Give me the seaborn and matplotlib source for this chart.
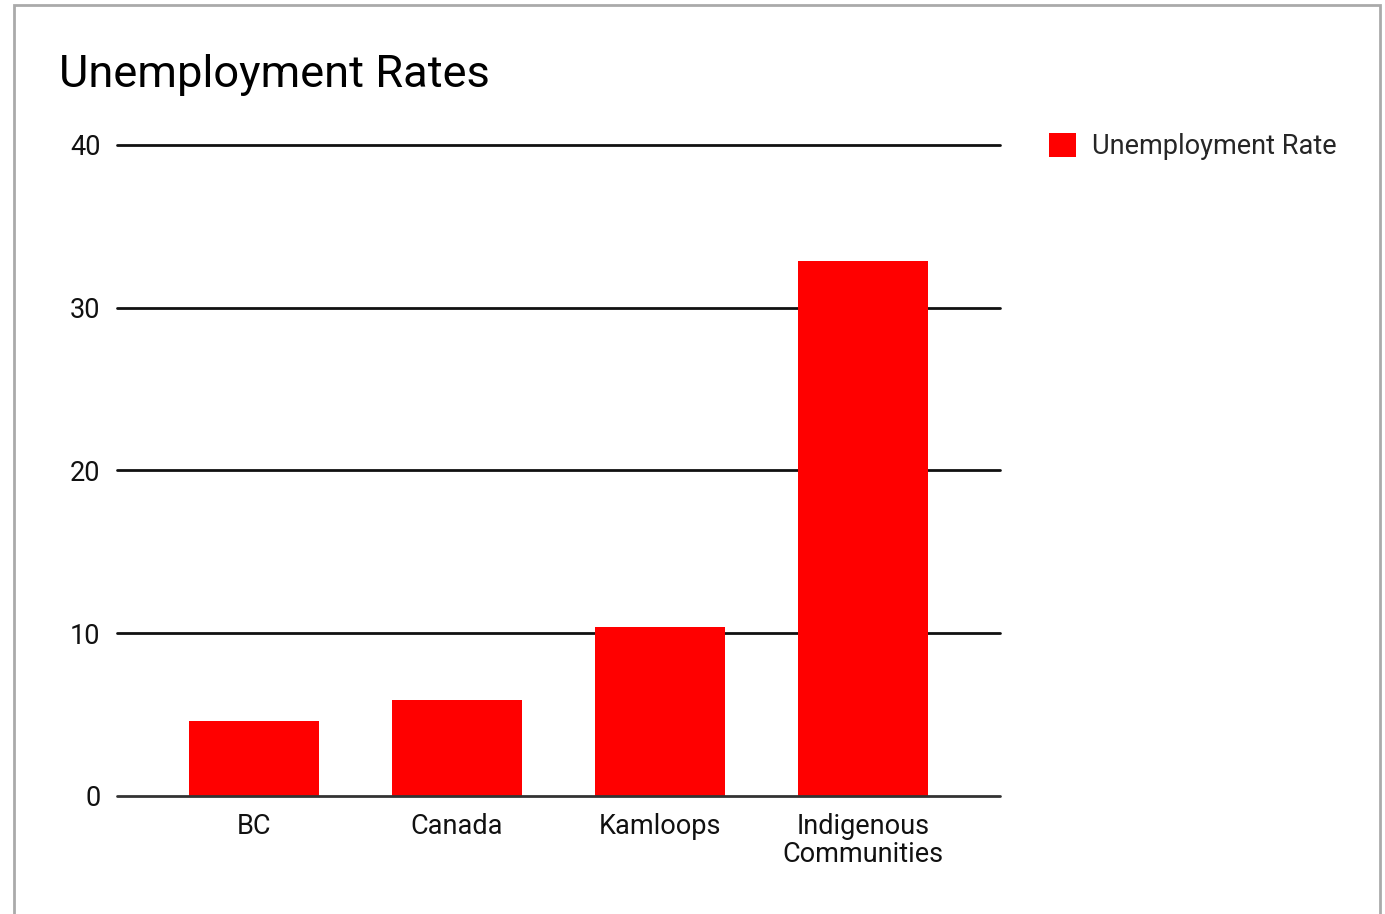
"""
Unemployment rates bar chart (BC, Canada, Kamloops, Indigenous communities).
"""
import matplotlib
matplotlib.use("Agg")
import matplotlib.pyplot as plt
from matplotlib.patches import Rectangle
import seaborn as sns

#data
regions = ["BC", "Canada", "Kamloops", "Indigenous\nCommunities"]
rates = [4.6, 5.9, 10.4, 32.9]
y_ticks = [0, 10, 20, 30, 40]
series_name = "Unemployment Rate"

sns.set_theme(style="white")
plt.rcParams["font.family"] = ["Roboto", "DejaVu Sans"]
FS = 19.5

fig = plt.figure(figsize=(13.85, 9.14), dpi=100)
ax = fig.add_axes([117 / 1385, 118 / 914, 883 / 1385, 651 / 914])

sns.barplot(x=regions, y=rates, color="#ff0000", saturation=1, width=0.645,
            linewidth=0, label=series_name, ax=ax, zorder=3)

ax.set_ylim(0, 40)
ax.set_xlim(-0.675, 3.675)
ax.set_yticks(y_ticks)
ax.set_yticklabels([str(t) for t in y_ticks], fontsize=FS, color="#111111")
ax.tick_params(axis="y", length=0, pad=12)
ax.tick_params(axis="x", length=0, pad=12, labelsize=FS, labelcolor="#111111")
for lbl in ax.get_xticklabels():
    lbl.set_linespacing(1.05)

#gridlines
for t in y_ticks[1:]:
    ax.axhline(t, color="#111111", lw=2, zorder=1, clip_on=False)
ax.axhline(0, color="#333333", lw=2, zorder=4, clip_on=False)
for s in ax.spines.values():
    s.set_visible(False)
ax.set_xlabel("")
ax.set_ylabel("")

fig.text(59 / 1385, 1 - 75 / 914, "Unemployment Rates", fontsize=32.6,
         va="center", ha="left", color="#000000")

#legend
ax.legend(loc="upper left", bbox_to_anchor=(1038 / 1385, 1 - 122 / 914),
          bbox_transform=fig.transFigure, frameon=False, fontsize=FS,
          handlelength=1.0, handleheight=1.0, handletextpad=0.6,
          borderaxespad=0)

#frame around the chart
fig.patches.append(Rectangle((14 / 1385, -0.05), 1366 / 1385, 1.05 - 5 / 914,
                             transform=fig.transFigure, fill=False,
                             edgecolor="#aaaaaa", lw=2))

fig.savefig("out.png", dpi=100)
